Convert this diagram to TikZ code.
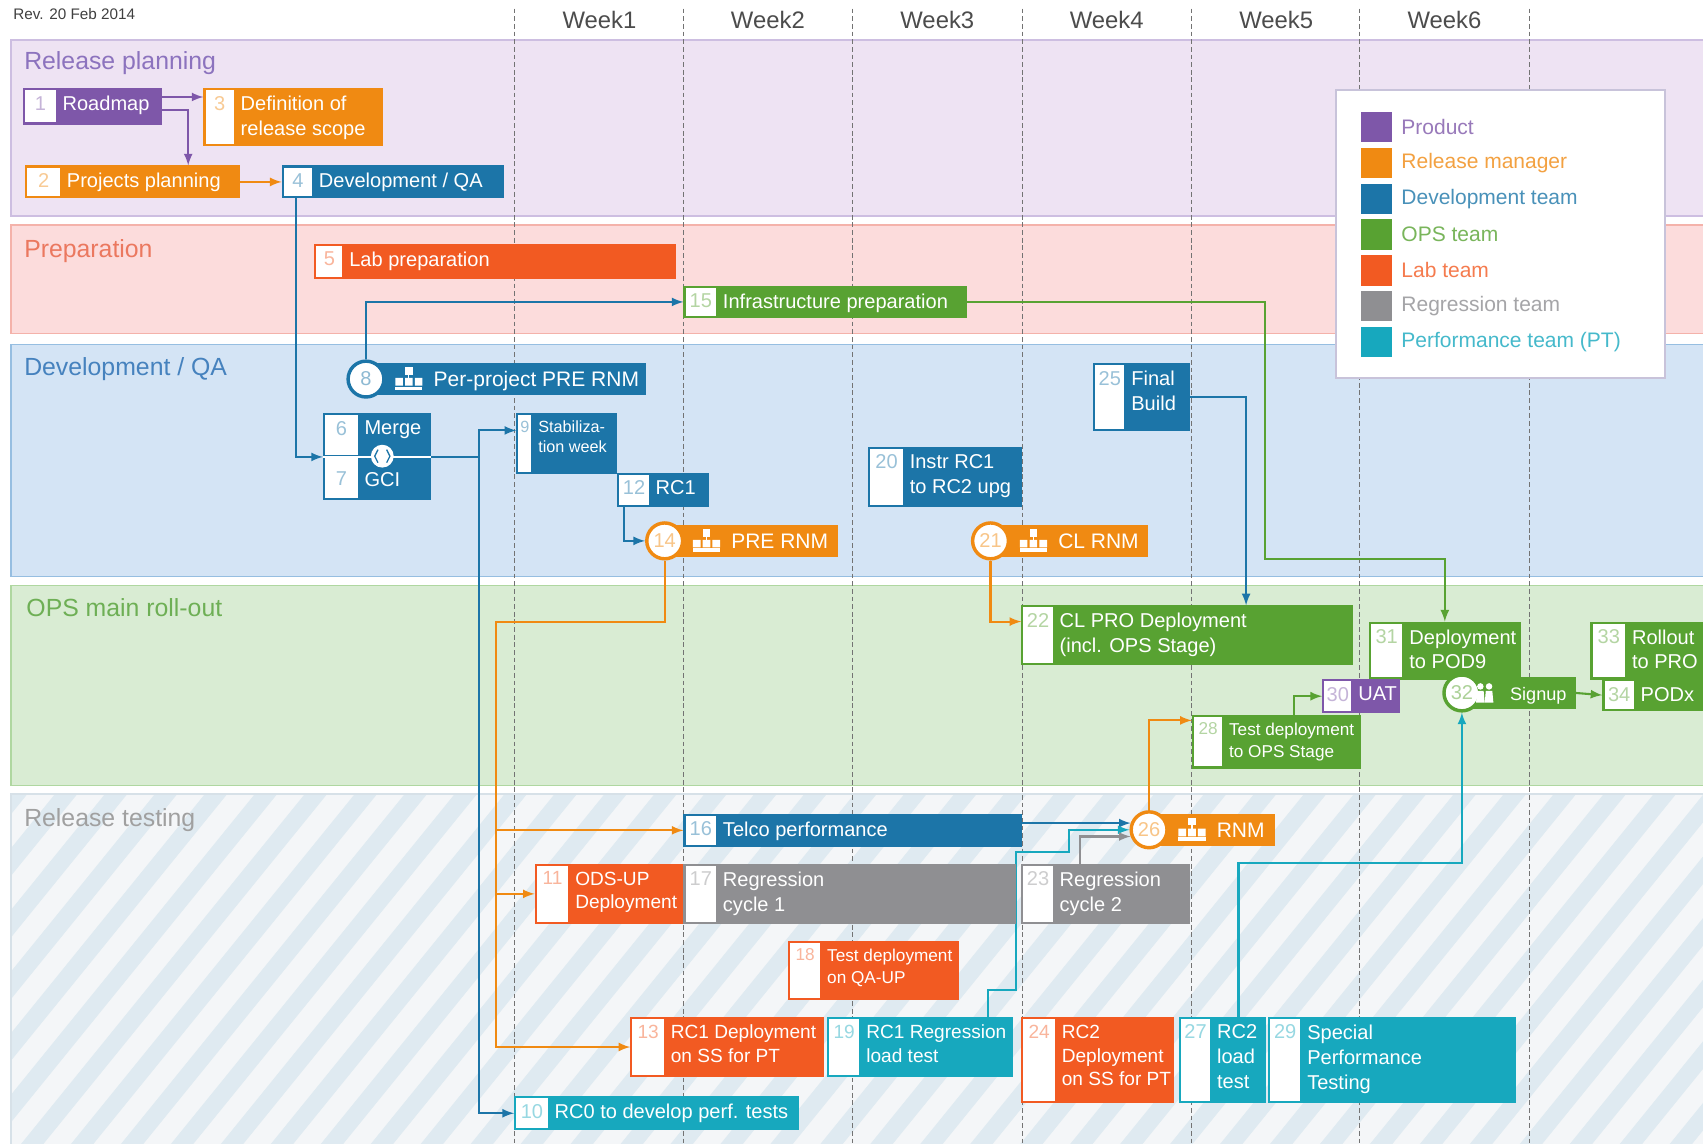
\documentclass[tikz,border=0pt]{standalone}
\usepackage{fontspec}
\setmainfont{Liberation Sans}
\usetikzlibrary{calc,fit}

\definecolor{cProd}{RGB}{126,87,169}
\definecolor{cRel}{RGB}{240,138,18}
\definecolor{cDev}{RGB}{28,117,168}
\definecolor{cOps}{RGB}{88,162,50}
\definecolor{cLab}{RGB}{242,90,34}
\definecolor{cReg}{RGB}{143,143,146}
\definecolor{cPerf}{RGB}{23,168,190}

\definecolor{bRP}{RGB}{238,227,243}
\definecolor{bRPl}{RGB}{205,190,225}
\definecolor{bPR}{RGB}{252,220,220}
\definecolor{bPRl}{RGB}{244,178,170}
\definecolor{bDV}{RGB}{212,228,245}
\definecolor{bDVl}{RGB}{150,190,225}
\definecolor{bOP}{RGB}{217,236,211}
\definecolor{bOPl}{RGB}{175,215,160}
\definecolor{bRT}{RGB}{244,246,248}
\definecolor{bRTs}{RGB}{223,234,241}
\definecolor{bRTl}{RGB}{215,225,232}
\definecolor{tRP}{RGB}{140,115,190}
\definecolor{tPR}{RGB}{235,120,95}
\definecolor{tDV}{RGB}{70,130,190}
\definecolor{tOP}{RGB}{110,175,85}
\definecolor{tRT}{RGB}{160,160,160}
\definecolor{legline}{RGB}{200,195,218}

\pgfdeclarelayer{lanes}
\pgfdeclarelayer{conns}
\pgfsetlayers{lanes,conns,main}

% task box: [extra keys]{name}{colour}{corner}{corner}{number cell}{number}{text}
\newcommand{\taskbox}[8][]{%
  \node[task=#3, fit={#4 #5}] (#2) {};
  \fill[white] ($(#2.north west)+(2,2)$) rectangle ($(#2.south west)+(#6,-2)$);
  \node[tnum=#3, #1, anchor=north] at ($(#2.north west)+(#6/2+1,7)$) {#7};
  \node[ttext, #1, anchor=north west] at ($(#2.north west)+(#6+6,7)$) {#8};
}
% milestone: {name}{colour}{cx}{cy}{bar end}{number}{text}{icon}{text offset}
\newcommand{\mstone}[9]{%
  \node[task=#2, fit={(#3,#4-14) (#5,#4+14)}] (#1bar) {};
  \node[mcircle=#2] (#1) at (#3,#4) {#6};
  #8{#3+#9-23}{#4}
  \node[mtext, anchor=base west] at (#3+#9,#4+7) {#7};
}
\newcommand{\orgicon}[2]{%
  \begin{scope}[shift={(#1,#2)}]
    \fill[white] (-3,-11) rectangle (4,-4);
    \fill[white] (-12,-1) rectangle (-5,6) (-3,-1) rectangle (4,6) (6,-1) rectangle (13,6);
    \fill[white] (-12,7) rectangle (13,10);
    \draw[white, line width=0.6pt] (0.5,-4) -- (0.5,-1);
  \end{scope}}
\newcommand{\pplicon}[2]{%
  \begin{scope}[shift={(#1,#2)}]
    \fill[white] (-4,-6) circle (3) (4,-6) circle (3);
    \fill[white] (-8,9) -- (-7,-2) -- (-1,-2) -- (0,9) -- cycle;
    \fill[white] (0,9) -- (1,-2) -- (7,-2) -- (8,9) -- cycle;
  \end{scope}}

\begin{document}
\begin{tikzpicture}[x=0.2mm, y=-0.2mm, >=latex,
  task/.style={draw=#1, fill=#1, line width=0.8pt, inner sep=0pt},
  tnum/.style={text=#1!45!white, inner sep=0pt, font=\fontsize{10.5}{13}\selectfont},
  ttext/.style={text=white, align=left, inner sep=0pt, font=\fontsize{10.5}{13}\selectfont},
  smalltext/.style={font=\fontsize{8.5}{10.5}\selectfont},
  midtext/.style={font=\fontsize{9}{11.5}\selectfont},
  narrowtext/.style={font=\fontsize{10}{12.5}\selectfont},
  mcircle/.style={circle, draw=#1, fill=white, line width=1.8pt, minimum size=6.6mm, inner sep=0pt, text=#1!50!white, font=\fontsize{10.5}{12}\selectfont},
  mtext/.style={text=white, inner sep=0pt, font=\fontsize{11}{13}\selectfont},
  conn/.style={draw=#1, line width=1.1pt, ->},
  weekline/.style={draw=black!55, line width=0.5pt, dash pattern=on 2.5pt off 1.5pt},
  weeklabel/.style={text=black!70, font=\fontsize{12.5}{15}\selectfont},
  bandlabel/.style={anchor=base west, inner sep=0pt, font=\fontsize{13}{15}\selectfont},
  legendtext/.style={anchor=west, inner sep=0pt, font=\fontsize{11}{13}\selectfont}
]
\useasboundingbox (0,0) rectangle (1568,1053);

\begin{pgfonlayer}{lanes}
\fill[white] (0,0) rectangle (1568,1053);
% swim lanes
\filldraw[fill=bRP, draw=bRPl, line width=0.8pt] (10,37) rectangle (1590,199);
\filldraw[fill=bPR, draw=bPRl, line width=0.8pt] (10,207) rectangle (1590,307);
\filldraw[fill=bDV, draw=bDVl, line width=0.8pt] (10,317) rectangle (1590,531);
\filldraw[fill=bOP, draw=bOPl, line width=0.8pt] (10,539) rectangle (1590,723);
\begin{scope}
  \clip (10,731) rectangle (1590,1070);
  \fill[bRT] (10,731) rectangle (1590,1070);
  \foreach \s in {-360,-314,...,1600} \draw[bRTs, line width=3.2mm] (\s,1080) -- ++(300,-370);
\end{scope}
\draw[bRTl, line width=0.8pt] (10,731) rectangle (1590,1070);

\node[bandlabel, text=tRP] (LRP) at (22,64) {Release planning};
\node[bandlabel, text=tPR] (LPR) at (22,237) {Preparation};
\node[bandlabel, text=tDV] (LDV) at (22,346) {Development / QA};
\node[bandlabel, text=tOP] (LOP) at (24,568) {OPS main roll-out};
\node[bandlabel, text=tRT] (LRT) at (22,761) {Release testing};

% weeks
\node[anchor=west, inner sep=0pt, text=black!75, font=\fontsize{8}{10}\selectfont] (Rev) at (12,13) {Rev. 20 Feb 2014};
\foreach \x in {474,629,785,941,1097,1252,1408} \draw[weekline] (\x,8) -- (\x,1060);
\foreach \w/\x in {1/552,2/707,3/863,4/1019,5/1175,6/1330} \node[weeklabel] (W\w) at (\x,18) {Week\w};
\end{pgfonlayer}

% release planning
\taskbox{T1}{cProd}{(22,82)}{(148,114)}{30}{1}{Roadmap}
\taskbox{T3}{cRel}{(188,82)}{(352,134)}{28}{3}{Definition of\\release scope}
\taskbox{T2}{cRel}{(24,153)}{(220,182)}{32}{2}{Projects planning}
\taskbox{T4}{cDev}{(260,153)}{(463,182)}{28}{4}{Development / QA}

% preparation
\taskbox{T5}{cLab}{(290,225)}{(622,256)}{26}{5}{Lab preparation}
\taskbox{T15}{cOps}{(630,264)}{(890,292)}{30}{15}{Infrastructure preparation}

% development / QA
\mstone{M8}{cDev}{337}{349}{594}{8}{Per-project PRE RNM}{\orgicon}{62}
\taskbox{T6}{cDev}{(298,381)}{(396,420)}{32}{6}{Merge}
\taskbox[yshift=-1.6mm]{T7}{cDev}{(298,420)}{(396,460)}{32}{7}{GCI}
\draw[white, line width=0.7pt] (T6.south west) -- (T6.south east);
\node[circle, fill=white, minimum size=4.2mm, inner sep=0pt] (Sync) at (352,420) {};
\draw[cDev, line width=0.7pt] (348,414) -- (345,420) -- (348,426) (356,414) -- (359,420) -- (356,426);
\taskbox[smalltext]{T9}{cDev}{(476,381)}{(567,436)}{14}{9}{Stabiliza-\\tion week}
\taskbox{T12}{cDev}{(569,436)}{(652,466)}{29}{12}{RC1}
\mstone{M14}{cRel}{612}{498}{771}{14}{PRE RNM}{\orgicon}{61}
\taskbox{T20}{cDev}{(800,412)}{(940,466)}{32}{20}{Instr RC1\\to RC2 upg}
\mstone{M21}{cRel}{912}{498}{1056}{21}{CL RNM}{\orgicon}{62}
\taskbox{T25}{cDev}{(1007,335)}{(1095,396)}{29}{25}{Final\\Build}

% OPS main roll-out
\taskbox{T22}{cOps}{(941,558)}{(1245,612)}{29}{22}{CL PRO Deployment\\(incl. OPS Stage)}
\taskbox{T31}{cOps}{(1261,573)}{(1400,625)}{31}{31}{Deployment\\to POD9}
\taskbox{T33}{cOps}{(1465,573)}{(1590,625)}{32}{33}{Rollout\\to PRO}
\taskbox{T30}{cProd}{(1218,626)}{(1288,656)}{27}{30}{UAT}
\mstone{M32}{cOps}{1346}{638}{1450}{32}{\fontsize{9.5}{11}\selectfont Signup}{\pplicon}{44}
\taskbox{T34}{cOps}{(1476,626)}{(1590,654)}{29}{34}{PODx}
\taskbox[midtext]{T28}{cOps}{(1098,659)}{(1252,707)}{28}{28}{Test deployment\\to OPS Stage}

% release testing
\taskbox{T16}{cDev}{(630,750)}{(940,779)}{30}{16}{Telco performance}
\mstone{M26}{cRel}{1058}{764}{1173}{26}{RNM}{\orgicon}{62}
\taskbox[narrowtext]{T11}{cLab}{(493,796)}{(628,850)}{31}{11}{ODS-UP\\Deployment}
\taskbox{T17}{cReg}{(630,796)}{(935,850)}{30}{17}{Regression\\cycle 1}
\taskbox{T23}{cReg}{(941,796)}{(1095,850)}{29}{23}{Regression\\cycle 2}
\taskbox[midtext]{T18}{cLab}{(726,867)}{(882,920)}{30}{18}{Test deployment\\on QA-UP}
\taskbox[narrowtext]{T13}{cLab}{(581,937)}{(758,991)}{31}{13}{RC1 Deployment\\on SS for PT}
\taskbox[narrowtext]{T19}{cPerf}{(762,937)}{(932,991)}{30}{19}{RC1 Regression\\load test}
\taskbox[narrowtext]{T24}{cLab}{(941,937)}{(1080,1015)}{31}{24}{RC2\\Deployment\\on SS for PT}
\taskbox{T27}{cPerf}{(1086,937)}{(1165,1015)}{29}{27}{RC2\\load\\test}
\taskbox{T29}{cPerf}{(1168,937)}{(1395,1015)}{30}{29}{Special\\Performance\\Testing}
\taskbox{T10}{cPerf}{(474,1010)}{(735,1040)}{31}{10}{RC0 to develop perf. tests}

% connectors
\begin{pgfonlayer}{conns}
\draw[conn=cProd] ($(T1.north east)+(0,8)$) -- ($(T3.north west)+(0,8)$);
\draw[conn=cProd] ($(T1.north east)+(0,20)$) -| ($(T2.north west)+(150,0)$);
\draw[conn=cRel] (T2.east) -- (T4.west);
\draw[conn=cDev] ($(T4.south west)+(13,0)$) |- (T6.south west);
\draw[conn=cDev] (M8.north) |- (T15.west);
\coordinate (J9) at ($(T6.south east)+(44,0)$);
\draw[conn=cDev] (T6.south east) -- (J9) |- ($(T9.north west)+(0,16)$);
\draw[conn=cDev] (J9) |- (T10.west);
\draw[conn=cDev] ($(T12.south west)+(6,0)$) |- (M14.west);
\coordinate (J14) at (457,573);
\draw[conn=cRel] (M14.south) |- (J14) |- (T13.west);
\draw[conn=cRel] (J14 |- T16.west) -- (T16.west);
\draw[conn=cRel] (J14 |- T11.west) -- (T11.west);
\coordinate (J15) at (1165,515);
\draw[conn=cOps] (T15.east) -| (J15) -| ($(T31.north west)+(70,0)$);
\draw[conn=cDev] (T25.east) -| ($(T22.north west)+(207,0)$);
\draw[conn=cRel] (M21.south) |- ($(T22.north west)+(0,15)$);
\draw[conn=cRel] (M26.north) |- ($(T28.north west)+(0,5)$);
\draw[conn=cOps] ($(T28.north west)+(94,0)$) |- (T30.west);
\draw[conn=cOps] (M32bar.east) -- (T34.west);
\draw[conn=cDev] (T16.east |- M26.160) -- (M26.160);
\draw[conn=cPerf] ($(T19.north west)+(148,0)$) -- ++(0,-25) -- ++(26,0) -- ++(0,-127) -- ++(49,0) |- (M26.west);
\draw[conn=cReg] ($(T23.north west)+(54,0)$) |- (M26.200);
\draw[conn=cPerf] ($(T27.north west)+(55,0)$) -- ++(0,-142) -| (M32.south);
\end{pgfonlayer}

% legend
\node[draw=legline, fill=white, line width=0.8pt, inner sep=0pt, fit={(1230,83) (1533,348)}] (Leg) {};
\foreach \c/\t [count=\i from 0] in {cProd/Product, cRel/Release manager, cDev/Development team, cOps/OPS team, cLab/Lab team, cReg/Regression team, cPerf/Performance team (PT)} {
  \fill[\c] (1253,103+33*\i) rectangle ++(29,28);
  \node[legendtext, text=\c!80!white] (Leg\i) at (1290,117+33*\i) {\t};
}
\end{tikzpicture}
\end{document}
